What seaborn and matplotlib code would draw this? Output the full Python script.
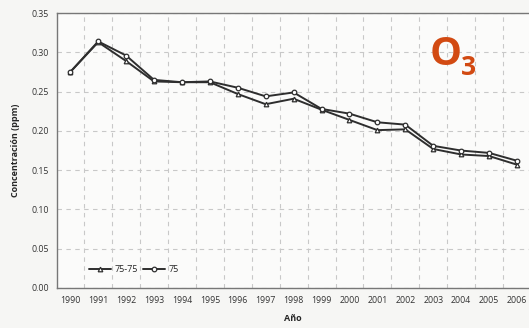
import pandas as pd
import matplotlib.pyplot as plt
import seaborn as sns
from matplotlib.ticker import MultipleLocator

# values (ppm)
years = list(range(1990, 2007))
conc_75_75 = [0.275, 0.313, 0.289, 0.263, 0.262, 0.262, 0.247, 0.234, 0.241, 0.227,
              0.214, 0.201, 0.202, 0.177, 0.170, 0.168, 0.157]
conc_75 = [0.275, 0.314, 0.296, 0.265, 0.262, 0.263, 0.255, 0.244, 0.249, 0.228,
           0.222, 0.211, 0.208, 0.181, 0.175, 0.172, 0.162]
ytick_vals = [0.00, 0.05, 0.10, 0.15, 0.20, 0.25, 0.30, 0.35]

df = pd.DataFrame({
    "year": years * 2,
    "conc": conc_75_75 + conc_75,
    "serie": ["75-75"] * len(years) + ["75"] * len(years),
})

sns.set_style("white")
plt.rcParams['font.family'] = ['Open Sans', 'DejaVu Sans']

fig = plt.figure(figsize=(5.29, 3.28), dpi=100, facecolor='#f6f6f4')
ax = fig.add_axes([0.108, 0.122, 0.892, 0.838])
ax.set_facecolor('#fbfbfa')

line_col = '#2e2e2e'
sns.lineplot(data=df[df.serie == "75-75"], x="year", y="conc", ax=ax, color=line_col,
             marker='^', markersize=3.3, mfc='white', mec=line_col, mew=0.9, lw=1.4,
             label="75-75")
sns.lineplot(data=df[df.serie == "75"], x="year", y="conc", ax=ax, color=line_col,
             marker='o', markersize=3.3, mfc='white', mec=line_col, mew=0.9, lw=1.4,
             label="75")

ax.set_xlim(1989.53, 2006.43)
ax.set_ylim(0, 0.35)
ax.set_xticks(years)
ax.set_xticklabels([str(y) for y in years], fontsize=6.3, color='#333333')
ax.set_yticks(ytick_vals)
ax.set_yticklabels([f"{v:.2f}" for v in ytick_vals], fontsize=6.3, color='#333333')
ax.xaxis.set_minor_locator(MultipleLocator(1, offset=0.5))
ax.tick_params(axis='both', which='both', length=0, pad=6)

ax.grid(which='minor', axis='x', color='#c8c8c8', ls=(0, (4, 4)), lw=0.8)
ax.grid(which='major', axis='y', color='#c8c8c8', ls=(0, (4, 4)), lw=0.8)
ax.set_axisbelow(True)

ax.spines['right'].set_visible(False)
for s in ['left', 'bottom', 'top']:
    ax.spines[s].set_color('#777777')
    ax.spines[s].set_linewidth(1.0)

ax.set_xlabel("Año", fontsize=6.5, fontweight='bold', labelpad=6)
ax.set_ylabel("Concentración (ppm)", fontsize=6.5, fontweight='bold', labelpad=8)

ax.legend(loc='lower left', bbox_to_anchor=(0.05, 0.02), ncol=2, frameon=False,
          fontsize=6.5, handlelength=2.5, columnspacing=0.6, handletextpad=0.3)

fig.text(0.812, 0.802, "O", fontsize=29, fontweight='bold', color='#d24a12',
         ha='left', va='baseline')
fig.text(0.872, 0.772, "3", fontsize=19, fontweight='bold', color='#d24a12',
         ha='left', va='baseline')

fig.savefig("out.png", dpi=100, facecolor=fig.get_facecolor())
